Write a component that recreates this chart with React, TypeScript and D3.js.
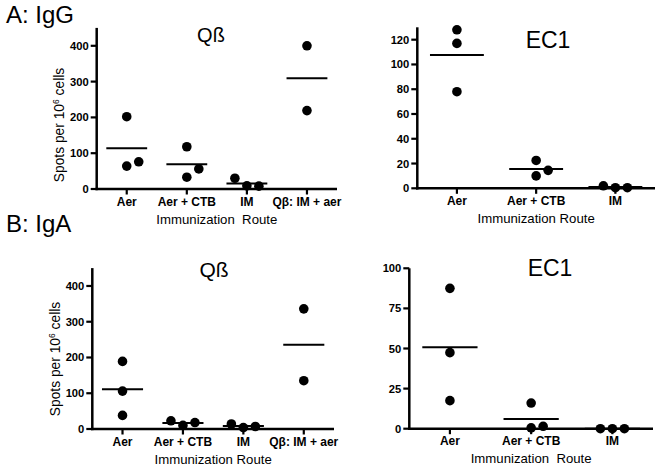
import React from "react";
import * as d3 from "d3";

// ---------- data ----------
const qbCategories = ["Aer", "Aer + CTB", "IM", "Qβ: IM + aer"];
const ec1Categories = ["Aer", "Aer + CTB", "IM"];

const iggQbValues = [[202, 64, 76], [118, 33, 56], [30, 9, 8], [400, 219]];
const iggEc1Values = [[128, 117, 78], [22.5, 10, 14.5], [2, 0.5, 0.5]];
const igaQbValues = [[189, 106, 38], [23, 10, 18], [14, 4, 7], [336, 135]];
const igaEc1Values = [[87.5, 47.4, 17.5], [16, 0.5, 1.5], [0, 0, 0]];

// horizontal slot of each point inside its column (scatter-dot spreading)
const iggQbSlots = [[0, 0, 1], [0, 0, 1], [-1, 0, 1], [0, 0]];
const iggEc1Slots = [[0, 0, 0], [0, 0, 1], [-1, 0, 1]];
const igaQbSlots = [[0, 0, 0], [-1, 0, 1], [-1, 0, 1], [0, 0]];
const igaEc1Slots = [[0, 0, 0], [0, 0, 1], [-1, 0, 1]];

const qbTicks = [0, 100, 200, 300, 400];
const iggEc1Ticks = [0, 20, 40, 60, 80, 100, 120];
const igaEc1Ticks = [0, 25, 50, 75, 100];

const sectionLabels = ["A: IgG", "B: IgA"];
const panelTitles = ["Qß", "EC1"];
const xTitle = "Immunization Route";

// ---------- layout ----------
const FONT = "'Liberation Sans', Arial, Helvetica, sans-serif";

type PanelProps = {
  categories: string[];
  values: number[][];
  slots: number[][];
  ticks: number[];
  yMax: number;
  left: number;
  right: number;
  bottom: number;
  top: number;
  title: string;
  titleX: number;
  titleY: number;
  titleSize: number;
  xTitleText: string;
  yTitle?: { x: number; y: number };
};

function Panel(p: PanelProps) {
  const x = d3.scaleBand<string>().domain(p.categories).range([p.left, p.right]).padding(0);
  const y = d3.scaleLinear().domain([0, p.yMax]).range([p.bottom, p.top]);
  const bw = x.bandwidth();
  const cx = (c: string) => (x(c) as number) + bw / 2;
  const slotStep = 12;
  const r = 4.8;
  const halfLine = bw * 0.34;
  const y0 = y(0);
  return (
    <g>
      {/* mean lines */}
      {p.categories.map((c, i) => {
        const m = d3.mean(p.values[i]) as number;
        return (
          <line
            key={"m" + i}
            x1={cx(c) - halfLine}
            x2={cx(c) + halfLine}
            y1={y(m)}
            y2={y(m)}
            stroke="#000"
            strokeWidth={2}
          />
        );
      })}
      {/* axes */}
      <line x1={p.left} x2={p.left} y1={y(p.yMax)} y2={y0 + 1.2} stroke="#000" strokeWidth={2.5} />
      <line x1={p.left - 1.2} x2={p.right} y1={y0} y2={y0} stroke="#000" strokeWidth={2.5} />
      {p.ticks.map((t) => (
        <g key={"t" + t}>
          <line x1={p.left - 6} x2={p.left} y1={y(t)} y2={y(t)} stroke="#000" strokeWidth={2.2} />
          <text
            x={p.left - 8}
            y={y(t) + 4}
            textAnchor="end"
            fontFamily={FONT}
            fontWeight="bold"
            fontSize={11.2}
            fill="#000"
          >
            {t}
          </text>
        </g>
      ))}
      {p.categories.map((c) => (
        <g key={"c" + c}>
          <line x1={cx(c)} x2={cx(c)} y1={y0} y2={y0 + 5.5} stroke="#000" strokeWidth={2.2} />
          <text
            x={cx(c)}
            y={y0 + 16.5}
            textAnchor="middle"
            fontFamily={FONT}
            fontWeight="bold"
            fontSize={12}
            fill="#000"
          >
            {c}
          </text>
        </g>
      ))}
      {/* dots */}
      {p.categories.map((c, i) =>
        p.values[i].map((v, j) => (
          <circle key={"d" + i + "-" + j} cx={cx(c) + p.slots[i][j] * slotStep} cy={y(v)} r={r} fill="#000" />
        ))
      )}
      {/* titles */}
      <text
        x={(p.left + p.right) / 2}
        y={y0 + 34.5}
        textAnchor="middle"
        fontFamily={FONT}
        fontSize={13.2}
        fill="#000"
        style={{ whiteSpace: "pre" }}
      >
        {p.xTitleText}
      </text>
      <text x={p.titleX} y={p.titleY} textAnchor="middle" fontFamily={FONT} fontSize={p.titleSize} fill="#000">
        {p.title}
      </text>
      {p.yTitle && (
        <text
          transform={`translate(${p.yTitle.x},${p.yTitle.y}) rotate(-90)`}
          textAnchor="middle"
          fontFamily={FONT}
          fontSize={13.8}
          fill="#000"
        >
          Spots per 10<tspan fontSize={8.5} dy={-5}>6</tspan>
          <tspan dy={5}> cells</tspan>
        </text>
      )}
    </g>
  );
}

export default function App() {
  const doubleSpaced = xTitle.replace(" ", "  ");
  return (
    <svg
      width={665}
      height={471}
      viewBox="0 0 665 471"
      style={{ position: "absolute", left: 0, top: 0, background: "#fff" }}
    >
      <rect x={0} y={0} width={665} height={471} fill="#fff" />
      <text x={6} y={22.5} fontFamily={FONT} fontSize={24} fill="#000">
        {sectionLabels[0]}
      </text>
      <text x={6} y={231.5} fontFamily={FONT} fontSize={24} fill="#000">
        {sectionLabels[1]}
      </text>

      <Panel
        categories={qbCategories}
        values={iggQbValues}
        slots={iggQbSlots}
        ticks={qbTicks}
        yMax={450}
        left={96.7}
        right={337}
        bottom={189}
        top={27.9}
        title={panelTitles[0]}
        titleX={211}
        titleY={41.5}
        titleSize={20}
        xTitleText={doubleSpaced}
        yTitle={{ x: 64, y: 125 }}
      />
      <Panel
        categories={ec1Categories}
        values={iggEc1Values}
        slots={iggEc1Slots}
        ticks={iggEc1Ticks}
        yMax={130}
        left={417.3}
        right={655}
        bottom={188.3}
        top={27.3}
        title={panelTitles[1]}
        titleX={548}
        titleY={48}
        titleSize={23}
        xTitleText={xTitle}
      />
      <Panel
        categories={qbCategories}
        values={igaQbValues}
        slots={igaQbSlots}
        ticks={qbTicks}
        yMax={450}
        left={92.3}
        right={334}
        bottom={429}
        top={268.1}
        title={panelTitles[0]}
        titleX={214}
        titleY={277}
        titleSize={21}
        xTitleText={xTitle}
        yTitle={{ x: 59.5, y: 359 }}
      />
      <Panel
        categories={ec1Categories}
        values={igaEc1Values}
        slots={igaEc1Slots}
        ticks={igaEc1Ticks}
        yMax={100}
        left={409.3}
        right={653}
        bottom={428.7}
        top={268.3}
        title={panelTitles[1]}
        titleX={550}
        titleY={276}
        titleSize={23}
        xTitleText={doubleSpaced}
      />
    </svg>
  );
}
